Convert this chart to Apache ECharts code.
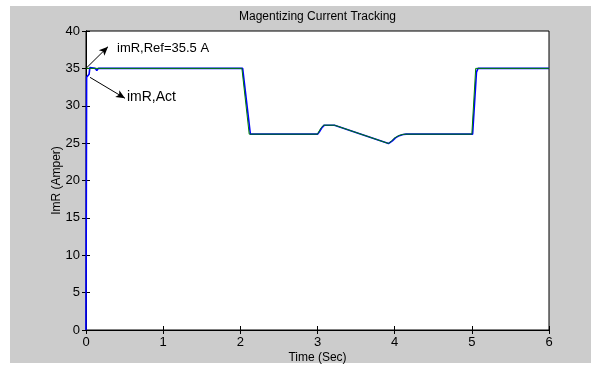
<!DOCTYPE html>
<html>
<head>
<meta charset="utf-8">
<script src="https://cdn.jsdelivr.net/npm/echarts@6/dist/echarts.min.js"></script>
<style>html,body{margin:0;padding:0;background:#fff}#c{width:597px;height:366px}</style>
</head>
<body>
<div id="c"></div>
<script>
// Reference current (green)
const refTime = [0, 2.02, 2.115, 3.0, 3.02, 3.05, 3.08, 3.22, 3.92, 3.96, 4.0, 4.05, 4.1, 4.14, 5.0, 5.05, 6];
const refValue = [35, 35, 26.2, 26.2, 26.6, 27.1, 27.4, 27.4, 24.95, 25.3, 25.7, 26.0, 26.15, 26.2, 26.2, 35, 35];
// Actual current (blue)
const actTime = [0, 0.008, 0.04, 0.05, 0.12, 0.14, 0.16, 2.03, 2.13, 2.145, 2.17, 3.0, 3.03, 3.06, 3.09, 3.22, 3.92, 3.97, 4.01, 4.06, 4.11, 4.15, 5.01, 5.06, 5.08, 6];
const actValue = [0, 33.8, 34.2, 35.1, 35, 34.7, 35, 35, 26.2, 26.0, 26.2, 26.2, 26.6, 27.1, 27.4, 27.4, 24.95, 25.3, 25.7, 26.0, 26.15, 26.2, 26.2, 34.5, 35, 35];
const xTicks = [0, 1, 2, 3, 4, 5, 6];
const yTicks = [0, 5, 10, 15, 20, 25, 30, 35, 40];
const titleText = 'Magentizing Current Tracking';
const xName = 'Time (Sec)';
const yName = 'ImR (Amper)';
const annRef = { text: 'imR,Ref=35.5 A', from: [0, 35], to: [0.285, 37.9] };
const annAct = { text: 'imR,Act', from: [0.052, 33.8], to: [0.505, 31.0] };

const chart = echarts.init(document.getElementById('c'));
const font = 'Arial, "Liberation Sans", sans-serif';
const zip = (a, b) => a.map((t, i) => [t, b[i]]);
const arrowLine = (a) => ({
  type: 'line', silent: true, animation: false,
  symbol: ['none', 'arrow'], symbolSize: [6, 9],
  lineStyle: { color: '#000', width: 1, type: 'solid' },
  label: { show: false },
  data: [[{ coord: a.from }, { coord: a.to }]]
});
const xAxisBase = {
  type: 'value', min: xTicks[0], max: xTicks[xTicks.length - 1], interval: 1,
  axisLine: { lineStyle: { color: '#000', width: 1 } },
  axisTick: { inside: true, length: 4, lineStyle: { color: '#000' } },
  splitLine: { show: false }
};
const yAxisBase = {
  type: 'value', min: yTicks[0], max: yTicks[yTicks.length - 1], interval: 5,
  axisLine: { lineStyle: { color: '#000', width: 1 } },
  axisTick: { inside: true, length: 4, lineStyle: { color: '#000' } },
  splitLine: { show: false }
};
chart.setOption({
  animation: false,
  backgroundColor: '#fff',
  textStyle: { fontFamily: font },
  grid: { left: 86, right: 48, top: 31, bottom: 36, containLabel: false, outerBoundsMode: 'none', show: true, backgroundColor: '#fff', borderColor: '#000', borderWidth: 1 },
  xAxis: [
    Object.assign({}, xAxisBase, {
      position: 'bottom',
      name: xName, nameLocation: 'middle', nameGap: 22, nameMoveOverlap: false,
      nameTextStyle: { color: '#000', fontSize: 12, fontFamily: font, verticalAlign: 'top' },
      axisLabel: { color: '#000', fontSize: 13, margin: 6, fontFamily: font }
    }),
    Object.assign({}, xAxisBase, { position: 'top', axisLabel: { show: false } })
  ],
  yAxis: [
    Object.assign({}, yAxisBase, {
      position: 'left',
      name: yName, nameLocation: 'middle', nameGap: 23, nameMoveOverlap: false,
      nameTextStyle: { color: '#000', fontSize: 12, fontFamily: font },
      axisLabel: { color: '#000', fontSize: 13, margin: 6, fontFamily: font }
    }),
    Object.assign({}, yAxisBase, { position: 'right', axisLabel: { show: false } })
  ],
  series: [
    {
      type: 'line', data: zip(actTime, actValue), showSymbol: false,
      lineStyle: { color: '#0000ff', width: 1.6 }, z: 2,
      markLine: arrowLine(annRef)
    },
    {
      type: 'line', data: zip(refTime, refValue), showSymbol: false,
      lineStyle: { color: '#008000', width: 1 }, z: 3,
      markLine: arrowLine(annAct)
    }
  ]
});
const pRef = chart.convertToPixel({ xAxisIndex: 0, yAxisIndex: 0 }, annRef.to);
const pAct = chart.convertToPixel({ xAxisIndex: 0, yAxisIndex: 0 }, annAct.to);
chart.setOption({
  graphic: [
    { type: 'rect', z: -100, silent: true, shape: { x: 10, y: 6, width: 581, height: 357 }, style: { fill: '#cccccc' } },
    { type: 'text', z: 10, x: 317.5, y: 17, style: { text: titleText, fill: '#000', font: '12px ' + font, textAlign: 'center', textVerticalAlign: 'middle' } },
    { type: 'text', z: 10, x: pRef[0] + 9, y: pRef[1] + 2, style: { text: annRef.text, fill: '#000', font: '13px ' + font, textAlign: 'left', textVerticalAlign: 'middle' } },
    { type: 'text', z: 10, x: pAct[0] + 2, y: pAct[1] - 1, style: { text: annAct.text, fill: '#000', font: '14px ' + font, textAlign: 'left', textVerticalAlign: 'middle' } }
  ]
});
</script>
</body>
</html>
